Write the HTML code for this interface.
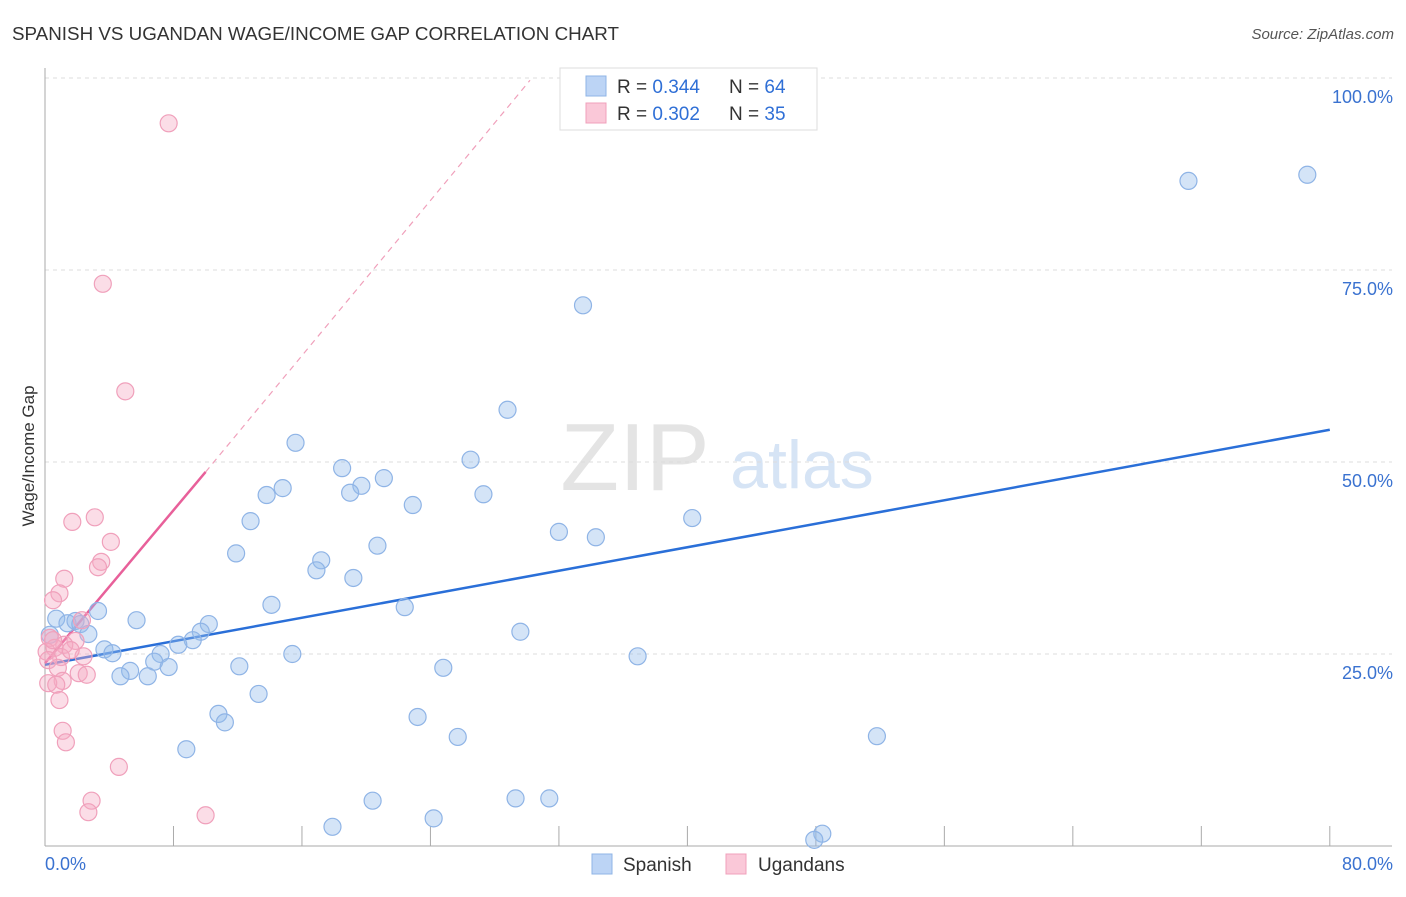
<!DOCTYPE html>
<html><head><meta charset="utf-8"><style>
body{margin:0;background:#fff;font-family:"Liberation Sans",sans-serif}
svg text{font-family:"Liberation Sans",sans-serif}
</style></head><body>
<svg width="1406" height="892" xmlns="http://www.w3.org/2000/svg">
<text x="12" y="40" font-size="18" fill="#333" textLength="607" lengthAdjust="spacingAndGlyphs">SPANISH VS UGANDAN WAGE/INCOME GAP CORRELATION CHART</text>
<text x="1394" y="39" font-size="15" fill="#555" text-anchor="end" font-style="italic">Source: ZipAtlas.com</text>
<g>
<text x="635" y="490" font-size="96" fill="#e4e4e4" text-anchor="middle" font-family="Liberation Serif">ZIP</text>
<text x="802" y="488" font-size="68" fill="#d6e4f5" text-anchor="middle">atlas</text>
</g>
<g id="grid"></g>
<g id="axes"></g>
<text transform="translate(34,456) rotate(-90)" font-size="17" fill="#333" text-anchor="middle">Wage/Income Gap</text>
<g id="lines"></g>
<g id="pts"></g>
<g>
<rect x="560" y="68" width="257" height="62" fill="#fff" stroke="#ddd"/>
<rect x="586" y="76" width="20" height="20" fill="#bcd4f5" stroke="#8fb4e6"/>
<rect x="586" y="103" width="20" height="20" fill="#fac8d8" stroke="#f0a0bb"/>
<text x="617" y="93" font-size="19" fill="#333">R = <tspan fill="#2f6fd6">0.344</tspan></text>
<text x="729" y="93" font-size="19" fill="#333">N = <tspan fill="#2f6fd6">64</tspan></text>
<text x="617" y="120" font-size="19" fill="#333">R = <tspan fill="#2f6fd6">0.302</tspan></text>
<text x="729" y="120" font-size="19" fill="#333">N = <tspan fill="#2f6fd6">35</tspan></text>
</g>
<g>
<rect x="592" y="854" width="20" height="20" fill="#bcd4f5" stroke="#8fb4e6"/>
<text x="623" y="871" font-size="19" fill="#333">Spanish</text>
<rect x="726" y="854" width="20" height="20" fill="#fac8d8" stroke="#f0a0bb"/>
<text x="758" y="871" font-size="19" fill="#333">Ugandans</text>
</g>
</svg>
<script>
const yTicks=[25,50,75,100];
const yTickLabels=["25.0%","50.0%","75.0%","100.0%"];
const xTicks=[0,8,16,24,32,40,48,56,64,72,80];
const spanishX=[71.2,78.6,33.5,28.8,15.6,18.5,26.5,21.1,19.7,19.0,13.8,14.8,27.3,22.9,12.8,40.3,32.0,34.3,20.7,11.9,17.2,16.9,19.2,3.3,14.1,22.4,5.7,0.7,1.4,1.9,2.2,2.7,10.2,9.7,9.2,8.3,29.6,7.2,3.7,4.2,15.4,36.9,6.8,7.7,5.3,4.7,6.4,12.1,24.8,13.3,10.8,11.2,23.2,25.7,51.8,8.8,20.4,29.3,31.4,17.9,24.2,48.4,47.9,0.3];
const spanishY=[86.6,87.4,70.4,56.8,52.5,49.2,50.3,47.9,46.9,46.0,45.7,46.6,45.8,44.4,42.3,42.7,40.9,40.2,39.1,38.1,37.2,35.9,34.9,30.6,31.4,31.1,29.4,29.6,29.0,29.3,28.9,27.6,28.9,27.9,26.8,26.2,27.9,25.0,25.6,25.1,25.0,24.7,24.0,23.3,22.8,22.1,22.1,23.4,23.2,19.8,17.2,16.1,16.8,14.2,14.3,12.6,5.9,6.2,6.2,2.5,3.6,1.6,0.8,27.5];
const ugandaX=[7.7,3.6,5.0,1.7,3.1,4.1,3.5,3.3,1.2,0.9,0.5,2.3,0.3,1.9,1.2,0.6,0.1,1.0,2.4,0.2,0.8,2.1,2.6,1.1,0.2,0.7,0.9,1.1,1.3,4.6,2.9,2.7,10.0,0.5,1.6];
const ugandaY=[94.1,73.2,59.2,42.2,42.8,39.6,37.0,36.3,34.8,32.9,32.0,29.4,27.1,26.7,26.2,25.8,25.3,24.6,24.7,24.2,23.2,22.5,22.3,21.5,21.2,21.0,19.0,15.0,13.5,10.3,5.9,4.4,4.0,26.8,25.5];
const blueTrend=[[0,23.6],[80,54.2]];
const pinkTrend=[[0,23.8],[10,48.7]];
const pinkDash=[[10,48.7],[30.2,99.7]];
const X=v=>45+v*16.06, Y=v=>846-v*7.68;
const NS="http://www.w3.org/2000/svg";
function mk(t,a,p){const e=document.createElementNS(NS,t);for(const k in a)e.setAttribute(k,a[k]);p.appendChild(e);return e;}
const grid=document.getElementById('grid'),axes=document.getElementById('axes'),lines=document.getElementById('lines'),pts=document.getElementById('pts');
yTicks.forEach((t,i)=>{
 const l=mk('line',{x1:45,x2:1392,y1:Y(t),y2:Y(t),stroke:'#ddd','stroke-dasharray':'4,4'},grid);
 
 
 const tx=mk('text',{x:1393,y:Y(t)+25,'font-size':18,fill:'#3a72d0','text-anchor':'end'},axes);
 tx.textContent=yTickLabels[i];
 
 
});
const ya=mk('line',{x1:45,x2:45,y1:68,y2:846,stroke:'#aaa'},axes);


const xa=mk('line',{x1:45,x2:1392,y1:846,y2:846,stroke:'#aaa'},axes);


xTicks.forEach(t=>{const l=mk('line',{x1:X(t),x2:X(t),y1:826,y2:846,stroke:'#aaa'},axes);
 
 });
[[0,"0.0%","start",45],[80,"80.0%","end",1393]].forEach(d=>{const t=mk('text',{x:d[3],y:870,'font-size':18,fill:'#3a72d0','text-anchor':d[2]},axes);t.textContent=d[1];
 
 });
function pl(pts2,attrs,name){const e=mk('line',Object.assign({x1:X(pts2[0][0]),y1:Y(pts2[0][1]),x2:X(pts2[1][0]),y2:Y(pts2[1][1])},attrs),lines);
 
 }
pl(pinkDash,{stroke:'#f0a0bb','stroke-width':1.2,'stroke-dasharray':'6,5'},'ugandans-trend-extension');
pl(blueTrend,{stroke:'#2a6fd8','stroke-width':2.5},'spanish-trend-line');
pl(pinkTrend,{stroke:'#e8609a','stroke-width':2.5},'ugandans-trend-line');
spanishX.forEach((x,i)=>{const c=mk('circle',{cx:X(x),cy:Y(spanishY[i]),r:8.5,fill:'rgba(147,187,235,0.4)',stroke:'#8fb4e6','stroke-width':1.2},pts);
 
 });
ugandaX.forEach((x,i)=>{const c=mk('circle',{cx:X(x),cy:Y(ugandaY[i]),r:8.5,fill:'rgba(245,170,195,0.4)',stroke:'#f0a0bb','stroke-width':1.2},pts);
 
 });
</script>
</body></html>
